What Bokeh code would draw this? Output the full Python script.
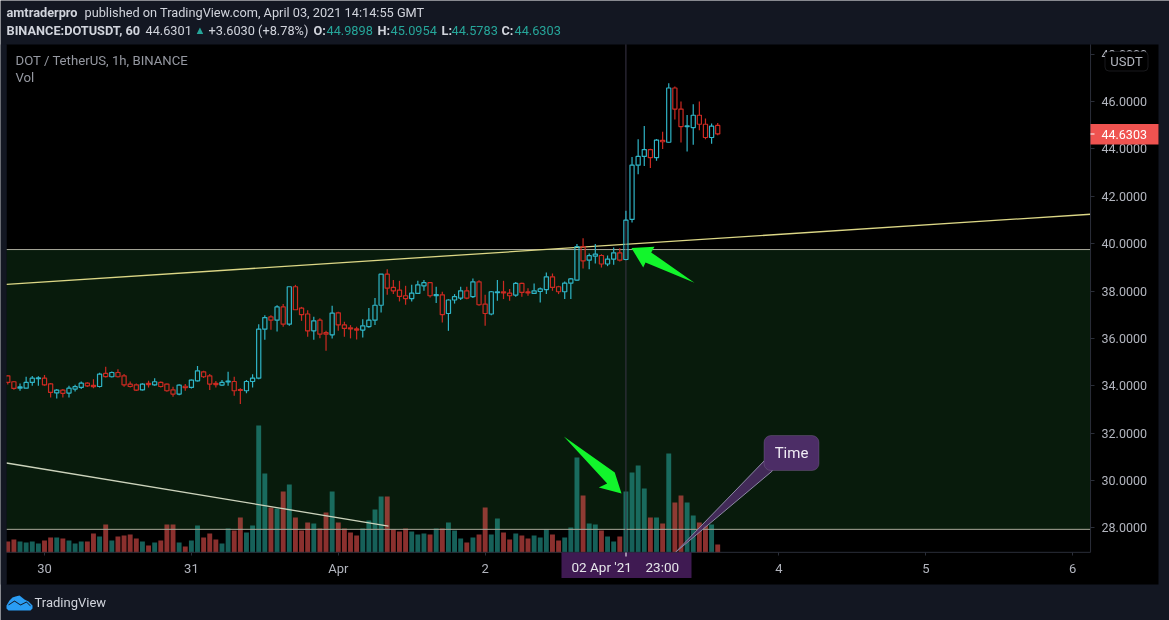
from bokeh.plotting import figure
from bokeh.embed import file_html
from bokeh.resources import INLINE
from bokeh.models import (ColumnDataSource, Range1d, FixedTicker, PrintfTickFormatter,
                          BoxAnnotation, Label, PolyAnnotation)

# ---- data -----
hours = list(range(-6, 111))
opens = [34.42,34.17,33.9,33.9,34.14,34.3,34.32,34.08,33.7,33.82,
         33.69,33.86,33.93,34.11,34.02,33.97,34.52,34.38,34.56,34.42,
         34.07,34.04,33.83,34.1,34.04,34.14,34.07,33.83,33.65,33.98,
         33.93,34.21,34.59,34.42,34.1,34.03,34.16,34.18,33.84,33.79,
         34.18,34.32,36.39,36.91,36.77,37.33,36.6,38.18,37.28,37.03,
         36.32,36.77,36.24,36.15,37.08,36.57,36.45,36.4,36.35,36.5,
         36.77,37.4,38.71,38.15,38.04,37.8,37.68,37.9,38.22,38.35,
         37.8,37.84,37.05,37.62,37.7,38.01,37.76,38.39,37.45,37.03,
         37.93,37.97,37.91,37.83,38.32,37.96,37.9,37.98,38.06,38.6,
         38.18,37.97,38.33,38.46,39.87,39.3,39.47,39.5,39.14,39.35,
         39.61,39.33,41.02,43.31,43.68,43.97,43.63,44.36,44.28,46.57,
         45.68,44.94,44.9,45.42,45.04,44.48,44.9898]
highs = [34.46,34.2,34.1,34.38,34.41,34.4,34.46,34.12,33.86,33.86,
         34.0,34.04,34.18,34.15,34.28,34.55,34.8,34.6,34.7,34.5,
         34.18,34.1,34.11,34.21,34.32,34.18,34.1,33.96,34.06,34.07,
         34.26,34.84,34.63,34.5,34.2,34.24,34.59,34.38,33.9,34.24,
         34.49,36.6,36.98,36.98,37.4,37.45,38.18,38.26,37.33,37.19,
         36.91,36.85,36.32,37.38,37.12,36.7,36.56,36.49,36.81,37.28,
         37.7,38.71,38.92,38.46,38.43,38.22,38.26,38.43,38.46,38.38,
         38.18,37.97,37.65,37.87,38.18,38.18,38.53,38.45,37.84,38.0,
         38.46,38.43,38.08,38.38,38.35,38.12,38.32,38.15,38.78,38.74,
         38.22,38.4,38.55,39.98,40.23,39.58,39.98,39.55,39.5,39.84,
         39.81,41.39,43.66,44.41,44.97,44.0,44.42,44.72,46.77,46.63,
         46.0,45.43,45.88,46.0,45.28,45.07,45.0954]
lows = [34.05,33.83,33.79,33.88,34.0,34.0,34.0,33.5,33.46,33.5,
        33.5,33.76,33.86,33.95,33.9,33.93,34.35,34.35,34.35,33.96,
        33.93,33.78,33.8,33.93,34.0,33.93,33.75,33.54,33.6,33.79,
        33.88,34.18,34.33,33.82,33.93,34.0,34.0,33.58,33.23,33.68,
        33.93,34.28,35.94,36.36,36.29,36.49,36.53,37.21,36.74,36.07,
        35.94,36.01,35.48,36.0,36.32,36.07,36.0,35.95,36.04,36.45,
        36.57,37.09,37.84,37.87,37.56,37.42,37.56,37.88,38.01,37.73,
        37.49,36.67,36.32,37.47,37.62,37.65,37.7,37.38,36.53,36.98,
        37.59,37.66,37.59,37.76,37.76,37.8,37.88,37.52,37.87,38.01,
        37.87,37.66,37.66,38.44,38.95,38.92,39.16,38.99,39.05,39.11,
        39.25,39.3,40.89,42.93,43.28,43.19,43.5,43.99,44.26,45.24,
        44.27,43.89,44.17,44.79,44.41,44.22,44.5783]
closes = [34.14,33.89,33.95,34.14,34.32,34.33,34.04,33.72,33.82,33.68,
          33.9,33.96,34.11,34.0,33.96,34.49,34.39,34.56,34.38,34.04,
          33.97,33.82,34.07,34.05,34.17,33.97,33.79,33.65,34.03,33.92,
          34.24,34.63,34.38,34.07,34.05,34.14,34.2,33.79,33.8,34.18,
          34.32,36.39,36.88,36.77,37.33,36.6,38.18,37.21,37.0,36.32,
          36.74,36.18,36.18,37.07,36.57,36.42,36.4,36.35,36.53,36.77,
          37.4,38.71,38.12,38.01,37.77,37.68,37.91,38.26,38.35,37.8,
          37.85,37.0,37.62,37.76,38.01,37.7,38.39,37.42,37.05,37.97,
          37.97,37.92,37.8,38.32,37.94,37.92,38.01,38.09,38.6,38.15,
          37.97,38.33,38.51,39.87,39.27,39.49,39.56,39.14,39.35,39.61,
          39.3,40.99,43.31,43.68,43.97,43.63,44.37,44.3,46.57,45.68,
          44.94,44.97,45.42,45.04,44.48,44.96,44.6303]
volumes = [11,13,11,10,11,9,12,15,15,14,
           12,9,11,11,19,16,28,12,16,17,
           18,14,11,7,10,12,28,28,10,6,
           12,27,15,19,13,9,24,22,35,20,
           27,127,79,45,44,61,68,35,22,30,
           29,24,40,61,30,24,20,17,24,32,
           43,56,56,23,21,24,21,18,19,18,
           24,24,30,22,14,10,15,18,45,18,
           34,20,13,19,17,14,17,15,23,18,
           12,15,25,95,57,29,28,22,16,11,
           16,61,80,87,64,35,35,29,99,50,
           57,50,37,30,27,28,8]
# hours since 30 Mar 00:00 at which the date labels sit
date_ticks = [0, 24, 48, 72, 96, 120, 144, 168]
date_labels = ["30", "31", "Apr", "2", "3", "4", "5", "6"]
price_ticks = [28, 30, 32, 34, 36, 38, 40, 42, 44, 46, 48]
# pane limits and drawn annotations, in chart units (hour, price)
pane_h = [-6.21, 170.92]
pane_p = [26.97, 48.41]
trend_hi_p = [38.28, 41.24]
trend_lo_h = [-6.21, 56.2]
trend_lo_p = [30.74, 28.08]
level_top = 39.75
level_bot = 27.94
cross_hour = 95
arrow1_h = [95.9, 97.83, 98.2, 106.2, 99.13, 99.67]
arrow1_p = [39.82, 38.99, 39.2, 38.35, 39.63, 39.87]
arrow2_h = [84.86, 93.18, 94.28, 90.57, 91.94]
arrow2_p = [31.86, 30.34, 29.45, 29.71, 29.88]
tail_h = [117.6, 118.95, 103.1]
tail_p = [30.83, 30.41, 26.97]

UP = "#2fb4c6"; DOWN = "#cc2a22"
BG = "#131722"; FONT = "Roboto"

cols = [UP if c >= o else DOWN for o, c in zip(opens, closes)]
vcols = ["#26a69a" if c >= o else "#ef5350" for o, c in zip(opens, closes)]
src = ColumnDataSource(dict(
    h=hours, o=opens, c=closes, hi=highs, lo=lows, v=volumes, col=cols, vcol=vcols,
    top=[max(a, b) for a, b in zip(opens, closes)], bot=[min(a, b) for a, b in zip(opens, closes)],
))

p = figure(width=1169, height=620, output_backend="svg", toolbar_location=None,
           x_range=Range1d(-7.19, 183.82), y_range=Range1d(24.092, 50.263),
           y_axis_location="right", min_border=0,
           background_fill_color=BG, border_fill_color=BG, outline_line_color=None)
p.styles = {"position": "fixed", "left": "0", "top": "0"}
p.extra_y_ranges = {"vol": Range1d(-68, 552)}
p.grid.visible = False


def box(l, r, t, b, fill, line=None, radius=0, level="annotation", lw=1):
    p.add_layout(BoxAnnotation(left=l, right=r, top=t, bottom=b, left_units="canvas", right_units="canvas",
                               top_units="canvas", bottom_units="canvas", fill_color=fill, fill_alpha=1,
                               line_color=line, line_width=lw, border_radius=radius, level=level))


def txt(x, y, s, color="#d1d4dc", size=12.75, bold=False, align="left"):
    p.add_layout(Label(x=x, y=y, x_units="canvas", y_units="canvas", text=s, text_color=color,
                       text_font=FONT, text_font_size=f"{size}px", text_align=align,
                       text_baseline="middle", text_font_style="bold" if bold else "normal"))


# black chart area and green zone
box(6, 1158, 44, 584, "#000000", level="underlay")
p.add_layout(BoxAnnotation(left=pane_h[0], right=pane_h[1], bottom=level_bot, top=level_top,
                           fill_color="#081b0c", fill_alpha=1, line_color=None, level="underlay"))

p.vbar(x="h", top="v", bottom=0, width=0.8, source=src, y_range_name="vol",
       fill_color="vcol", fill_alpha=0.58, line_color=None)

for loc in (level_top, level_bot):
    p.line(pane_h, [loc, loc], line_color="#aaaa9c", line_width=1)
p.line(pane_h, trend_hi_p, line_color="#dcd786", line_width=1.3)
p.line(trend_lo_h, trend_lo_p, line_color="#ccd3bc", line_width=1.3)
p.line([cross_hour, cross_hour], pane_p, line_color="#3a3547", line_width=1)

p.segment(x0="h", x1="h", y0="top", y1="hi", source=src, line_color="col", line_width=1.2)
p.segment(x0="h", x1="h", y0="bot", y1="lo", source=src, line_color="col", line_width=1.2)
p.vbar(x="h", top="top", bottom="bot", width=0.68, source=src, fill_alpha=0, line_color="col", line_width=1.2)

p.patch(arrow1_h, arrow1_p, fill_color="#12f52c", line_color=None)
p.patch(arrow2_h, arrow2_p, fill_color="#12f52c", line_color=None)
p.patch(tail_h, tail_p, fill_color="#4c2d66", fill_alpha=0.85, line_color="#8d8aa4", line_width=1)

# pane borders
p.line([pane_h[1], pane_h[1]], pane_p, line_color="#2a2e39", line_width=1)
p.line(pane_h, [pane_p[0], pane_p[0]], line_color="#2a2e39", line_width=1)

# axes, placed on the pane's own edges
ax_y = p.yaxis[0]
ax_y.fixed_location = pane_h[1]
ax_y.ticker = FixedTicker(ticks=price_ticks)
ax_y.formatter = PrintfTickFormatter(format="%.4f")
ax_y.major_label_text_color = "#b2b5be"
ax_y.major_label_text_font = FONT
ax_y.major_label_text_font_size = "12.5px"
ax_y.major_label_standoff = 7
ax_y.axis_line_color = None
ax_y.major_tick_line_color = "#2a2e39"
ax_y.major_tick_in = 0
ax_y.major_tick_out = 4
ax_y.minor_tick_line_color = None
ax_x = p.xaxis[0]
ax_x.fixed_location = pane_p[0]
ax_x.ticker = FixedTicker(ticks=date_ticks)
ax_x.major_label_overrides = dict(zip(date_ticks, date_labels))
ax_x.major_label_text_color = "#b2b5be"
ax_x.major_label_text_font = FONT
ax_x.major_label_text_font_size = "13px"
ax_x.major_label_standoff = 6
ax_x.axis_line_color = None
ax_x.major_tick_line_color = "#2a2e39"
ax_x.major_tick_in = 0
ax_x.major_tick_out = 3
ax_x.minor_tick_line_color = None

# strip left of the pane
box(0, 6, 44, 584, BG)

# header
txt(6, 12, "amtraderpro", bold=True)
txt(84, 12, "published on TradingView.com, April 03, 2021 14:14:55 GMT")
txt(6, 30, "BINANCE:DOTUSDT, 60", bold=True)
txt(145, 30, "44.6301")
txt(194, 30, "▲", color="#26a69a", size=11)
txt(208, 30, "+3.6030 (+8.78%)")
for x, k, v in [(313, "O:", "44.9898"), (377, "H:", "45.0954"), (441, "L:", "44.5783"), (501, "C:", "44.6303")]:
    txt(x, 30, k, bold=True)
    txt(x + (10 if k == "L:" else 13), 30, v, color="#26a69a")
txt(15, 60, "DOT / TetherUS, 1h, BINANCE", color="#9598a1", size=13.2)
txt(15, 77, "Vol", color="#9598a1", size=13.2)

# scale tags
box(1104.5, 1147.5, 51, 70.5, "#000000", "#50535e", 4)
txt(1126, 60.5, "USDT", color="#b2b5be", size=13, align="center")
box(1090, 1158, 123.5, 144, "#ef5350")
box(1090, 1094, 133, 134, "#ffffff")
txt(1101, 134, "44.6303", color="#ffffff", size=12.5)

# crosshair date tag
box(561, 691, 552, 577.5, "#3f1a52")
box(625, 626, 552, 556, "#ffffff")
txt(571, 566, "02 Apr '21", color="#e6e6ea", size=13.5)
txt(645, 566, "23:00", color="#e6e6ea", size=13.5)

# callout
box(763.5, 818.5, 435, 470, "#4c2d66", "#8d7fa0", 7)
txt(791, 452, "Time", color="#f0ecf4", size=15, align="center")

# footer
p.add_layout(PolyAnnotation(xs=[6, 9, 12, 15, 19, 24, 28, 32, 32, 30, 8, 6],
                            ys=[605, 600, 597, 596, 595, 599, 601, 605, 608, 610, 610, 608],
                            xs_units="canvas", ys_units="canvas", fill_color="#2a9df4", fill_alpha=1, line_color=None))
p.add_layout(PolyAnnotation(xs=[8, 14, 20, 26, 30, 30, 26, 20, 14, 8],
                            ys=[604, 600, 604, 601, 605, 606, 602, 605, 601, 605],
                            xs_units="canvas", ys_units="canvas", fill_color=BG, fill_alpha=1, line_color=None))
txt(34, 602, "TradingView", color="#d1d4dc", size=13)

open("out.html", "w").write(file_html(p, INLINE))
